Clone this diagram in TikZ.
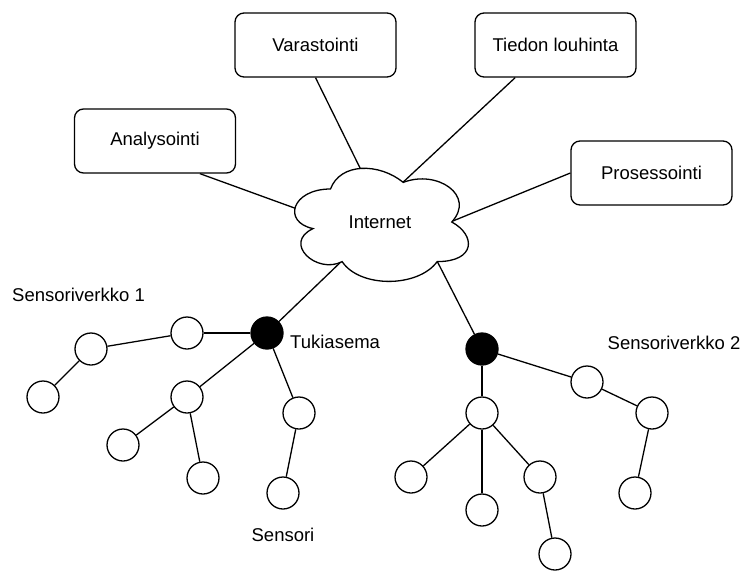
\documentclass[tikz,border=0pt]{standalone}
\usepackage{fontspec}
\setmainfont{Liberation Sans}
\begin{document}
\begin{tikzpicture}[x=1pt,y=-1pt,
  every node/.style={font=\fontsize{18.5}{22}\selectfont},
  box/.style={draw, rounded corners=9pt, fill=white, minimum width=161pt,
    minimum height=64pt, line width=1.3pt, inner sep=0pt},
  sensor/.style={draw, circle, fill=white, minimum size=32pt, inner sep=0pt,
    line width=1.3pt},
  station/.style={sensor, fill=black},
  link/.style={line width=1.3pt},
  lbl/.style={inner sep=0pt}]
\useasboundingbox (0,0) rectangle (747,571);

% services around the internet
\node[box] (ana) at (155,141) {Analysointi};
\node[box] (var) at (315.5,45) {Varastointi};
\node[box] (tie) at (555.5,45) {Tiedon louhinta};
\node[box] (pro) at (651.5,173) {Prosessointi};

% base stations
\node[station] (bs1) at (267,333) {};
\node[station] (bs2) at (482,349) {};

% points just inside the cloud where the links meet it
\coordinate (cAna) at (300,210);
\coordinate (cVar) at (363,174);
\coordinate (cTie) at (399,186);
\coordinate (cPro) at (448,223);
\coordinate (cS1) at (346,257);
\coordinate (cS2) at (435,257);

% links to the cloud (the cloud is drawn over their ends)
\draw[link] (ana.-36.7) -- (cAna);
\draw[link] (var.south) -- (cVar);
\draw[link] (tie.-141.7) -- (cTie);
\draw[link] (pro.west) -- (cPro);
\draw[link] (cS1) -- (bs1);
\draw[link] (cS2) -- (bs2);

% internet cloud
\begin{scope}[shift={(282,156)}, x=194pt, y=-132pt]
  \draw[line width=1.3pt, fill=white]
    (0.25,0.25) .. controls (0.05,0.25) and (0,0.5) .. (0.16,0.55)
    .. controls (0,0.66) and (0.18,0.9) .. (0.31,0.8)
    .. controls (0.4,1) and (0.7,1) .. (0.8,0.8)
    .. controls (1,0.8) and (1,0.6) .. (0.875,0.5)
    .. controls (1,0.3) and (0.8,0.1) .. (0.625,0.2)
    .. controls (0.5,0.05) and (0.3,0.05) .. (0.25,0.25) -- cycle;
\end{scope}
\node[lbl] (net) at (380,222) {Internet};

% sensor network 1
\node[sensor] (a1) at (187,333) {};
\node[sensor] (b1) at (91,349) {};
\node[sensor] (c1) at (43,397) {};
\node[sensor] (d1) at (187,397) {};
\node[sensor] (e1) at (123,445) {};
\node[sensor] (f1) at (203,478) {};
\node[sensor] (g1) at (299,413) {};
\node[sensor] (h1) at (283,493) {};
\draw[link] (bs1) -- (a1);
\draw[link] (a1) -- (b1);
\draw[link] (b1) -- (c1);
\draw[link] (bs1) -- (d1);
\draw[link] (d1) -- (e1);
\draw[link] (d1) -- (f1);
\draw[link] (bs1) -- (g1);
\draw[link] (g1) -- (h1);

% sensor network 2
\node[sensor] (p2) at (587,382) {};
\node[sensor] (q2) at (652,413) {};
\node[sensor] (r2) at (635,493) {};
\node[sensor] (s2) at (482,413) {};
\node[sensor] (t2) at (411,477) {};
\node[sensor] (u2) at (482,510) {};
\node[sensor] (v2) at (540,477) {};
\node[sensor] (w2) at (555,554) {};
\draw[link] (bs2) -- (p2);
\draw[link] (p2) -- (q2);
\draw[link] (q2) -- (r2);
\draw[link] (bs2) -- (s2);
\draw[link] (s2) -- (t2);
\draw[link] (s2) -- (u2);
\draw[link] (s2) -- (v2);
\draw[link] (v2) -- (w2);

% labels
\node[lbl, anchor=west] (sn1) at (12,295) {Sensoriverkko 1};
\node[lbl, anchor=west] (tuk) at (290,342) {Tukiasema};
\node[lbl] (sen) at (283,535) {Sensori};
\node[lbl] (sn2) at (674,343) {Sensoriverkko 2};
\end{tikzpicture}
\end{document}
